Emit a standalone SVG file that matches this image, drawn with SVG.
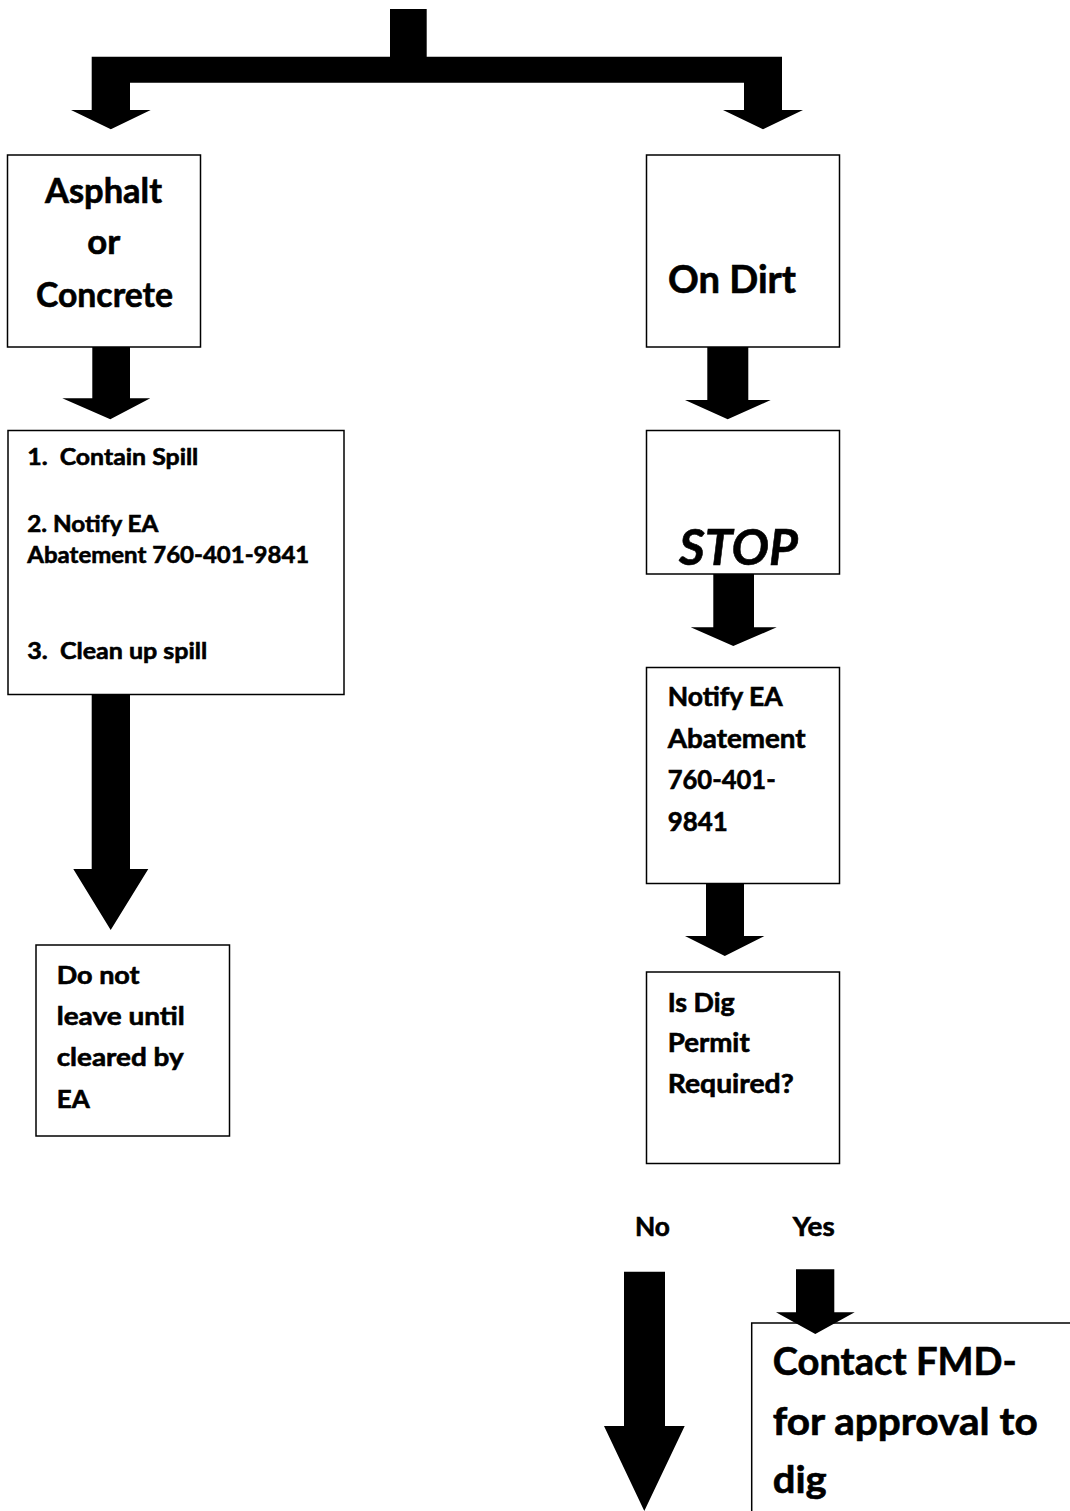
<svg xmlns="http://www.w3.org/2000/svg" width="1070" height="1511" viewBox="0 0 1070 1511">
<style>
.box{fill:#fff;stroke:#000;stroke-width:1.5}
.arr{fill:#000;stroke:none}
text{font-family:Lato,"Open Sans","Liberation Sans",sans-serif;font-weight:700;fill:#000;stroke:#000;stroke-width:0.6px}
.t1{font-size:34.5px}
.t2{font-size:37.5px}
.t3{font-size:23.5px}
.t4{font-size:25px}
.t5{font-size:26px}
.t6{font-size:38px}
.stop{font-size:50px;font-style:italic}
</style>
<rect width="1070" height="1511" fill="#fff"/>
<g id="nodes">
<g id="n-asphalt">
<rect class="box" x="7.5" y="155" width="193" height="192"/>
<text class="t1" x="45" y="202.7" textLength="117" lengthAdjust="spacingAndGlyphs">Asphalt</text>
<text class="t1" x="87.3" y="254" textLength="33" lengthAdjust="spacingAndGlyphs">or</text>
<text class="t1" x="36" y="306.7" textLength="137" lengthAdjust="spacingAndGlyphs">Concrete</text>
</g>
<g id="n-dirt">
<rect class="box" x="646.5" y="155" width="193" height="192"/>
<text class="t2" x="668" y="292.7" textLength="128" lengthAdjust="spacingAndGlyphs">On Dirt</text>
</g>
<g id="n-steps">
<rect class="box" x="8" y="430.5" width="336" height="264"/>
<text class="t3" x="27.3" y="465" textLength="171" lengthAdjust="spacingAndGlyphs" xml:space="preserve">1.  Contain Spill</text>
<text class="t3" x="27.3" y="531.7" textLength="131" lengthAdjust="spacingAndGlyphs">2. Notify EA</text>
<text class="t3" x="27.3" y="562.7" textLength="282" lengthAdjust="spacingAndGlyphs">Abatement 760-401-9841</text>
<text class="t3" x="27.3" y="658.7" textLength="180" lengthAdjust="spacingAndGlyphs" xml:space="preserve">3.  Clean up spill</text>
</g>
<g id="n-stop">
<rect class="box" x="646.5" y="430.5" width="193" height="143.5"/>
<text class="stop" x="679" y="565" textLength="119" lengthAdjust="spacingAndGlyphs">STOP</text>
</g>
<g id="n-donotleave">
<rect class="box" x="36" y="945" width="193.5" height="191"/>
<text class="t4" x="56.7" y="983.5" textLength="83" lengthAdjust="spacingAndGlyphs">Do not</text>
<text class="t4" x="56.7" y="1025" textLength="128" lengthAdjust="spacingAndGlyphs">leave until</text>
<text class="t4" x="56.7" y="1066" textLength="127" lengthAdjust="spacingAndGlyphs">cleared by</text>
<text class="t4" x="56.7" y="1107.5" textLength="33" lengthAdjust="spacingAndGlyphs">EA</text>
</g>
<g id="n-notify">
<rect class="box" x="646.5" y="667.5" width="193" height="216"/>
<text class="t5" x="667.7" y="706" textLength="115" lengthAdjust="spacingAndGlyphs">Notify EA</text>
<text class="t5" x="667.7" y="747.5" textLength="138" lengthAdjust="spacingAndGlyphs">Abatement</text>
<text class="t5" x="667.7" y="789" textLength="108" lengthAdjust="spacingAndGlyphs">760-401-</text>
<text class="t5" x="667.7" y="830.5" textLength="60" lengthAdjust="spacingAndGlyphs">9841</text>
</g>
<g id="n-isdig">
<rect class="box" x="646.5" y="972" width="193" height="191.5"/>
<text class="t5" x="667.7" y="1011.7" textLength="67" lengthAdjust="spacingAndGlyphs">Is Dig</text>
<text class="t5" x="667.7" y="1051.7" textLength="82" lengthAdjust="spacingAndGlyphs">Permit</text>
<text class="t5" x="667.7" y="1092.7" textLength="126" lengthAdjust="spacingAndGlyphs">Required?</text>
</g>
<g id="n-contact">
<rect class="box" x="751.7" y="1323" width="340" height="220"/>
<text class="t6" x="772.7" y="1375" textLength="244" lengthAdjust="spacingAndGlyphs">Contact FMD-</text>
<text class="t6" x="772.7" y="1435" textLength="265" lengthAdjust="spacingAndGlyphs">for approval to</text>
<text class="t6" x="772.7" y="1493.3" textLength="54" lengthAdjust="spacingAndGlyphs">dig</text>
</g>
</g>
<g id="connectors">
<path class="arr" d="M390,9 H426.7 V56.7 H782 V110 H803 L763,129.3 L723,110 H744 V82.7 H130 V110 H150.7 L110.85,129.3 L71,110 H91.7 V56.7 H390 Z"/>
<path class="arr" d="M92.3,347 H130 V398.3 H150.3 L110.3,419.3 L62.3,398.3 H92.3 Z"/>
<path class="arr" d="M707.3,347 H748.3 V400 H770.7 L727.7,419.3 L685,400 H707.3 Z"/>
<path class="arr" d="M91.7,694 H130 V869 H148.3 L110.7,930 L73.3,869 H91.7 Z"/>
<path class="arr" d="M713.3,574 H754 V627.3 H776.7 L733.3,646 L690.7,627.3 H713.3 Z"/>
<path class="arr" d="M706,883.5 H744 V936 H764.3 L724.8,956 L685,936 H706 Z"/>
<path class="arr" d="M624,1271.7 H665 V1426 H684.7 L644.3,1511 L604,1426 H624 Z"/>
<path class="arr" d="M796,1269.3 H834.3 V1312.3 H854.7 L815.3,1334 L776,1312.3 H796 Z"/>
<text class="t5" x="635" y="1236" textLength="35" lengthAdjust="spacingAndGlyphs">No</text>
<text class="t5" x="792.7" y="1236" textLength="42" lengthAdjust="spacingAndGlyphs">Yes</text>
</g>
</svg>
